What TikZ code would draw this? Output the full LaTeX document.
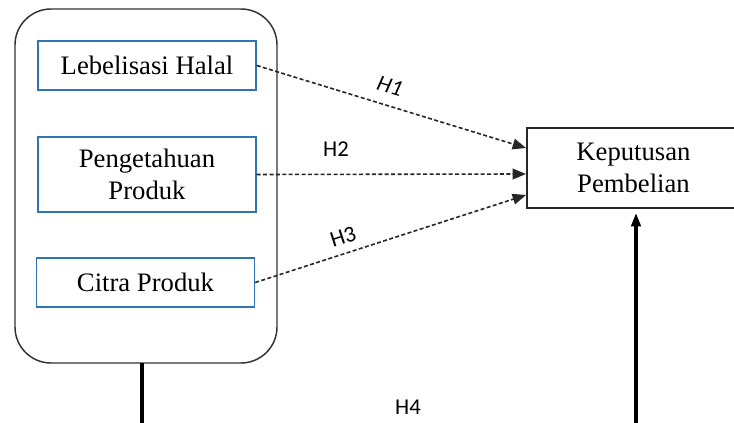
\documentclass[tikz,border=0pt]{standalone}
\usepackage{fontspec}
\setmainfont{Liberation Serif}
\newfontfamily\lblfont{Carlito}
\usetikzlibrary{arrows.meta}
\definecolor{boxblue}{RGB}{46,117,182}
\tikzset{
  varbox/.style={draw=boxblue, line width=1.1pt, minimum width=163.5pt, align=center, font=\fontsize{20}{24}\selectfont, inner sep=0pt},
  outerbox/.style={draw=black!80, line width=1.1pt, rounded corners=27pt},
  depbox/.style={draw=black!85, line width=1.1pt, align=center, font=\fontsize{20}{24}\selectfont, inner sep=0pt},
  dasharrow/.style={draw=black!85, line width=1.2pt, dash pattern=on 3pt off 1.8pt, -{Triangle[length=10pt,width=8pt]}},
  thickline/.style={draw=black, line width=2.4pt},
  hlabel/.style={font=\lblfont\fontsize{17}{18}\selectfont, inner sep=0pt}
}
\begin{document}
\begin{tikzpicture}[x=0.75pt,y=-0.75pt]
\clip (0,0) rectangle (734,423);
\fill[white] (0,0) rectangle (734,423);
% outer rounded container
\draw[outerbox] (15,9) rectangle (277,363);
\coordinate (outerbot) at (142,363);
% variable boxes
\node[varbox, minimum height=36.75pt] (lh) at (147,65.5) {Lebelisasi Halal};
\node[varbox, minimum height=56.25pt] (pp) at (147,174.5) {Pengetahuan\\Produk};
\node[varbox, minimum height=36.75pt] (cp) at (145.5,282.5) {Citra Produk};
% dependent box
\node[depbox, minimum width=159.75pt, minimum height=60pt] (kp) at (633.5,168) {Keputusan\\Pembelian};
% dashed arrows
\coordinate (t1) at (526,148);
\coordinate (t2) at (526,174);
\coordinate (t3) at (526,195);
\draw[dasharrow] (lh.east) -- (t1);
\draw[dasharrow] (pp.east) -- (t2);
\draw[dasharrow] (cp.east) -- (t3);
% labels
\node[hlabel, rotate=-16.7] (h1) at (390,86) {\itshape H1};
\node[hlabel] (h2) at (336,149) {H2};
\node[hlabel, rotate=18] (h3) at (343,237) {H3};
\node[hlabel] (h4) at (408,407) {H4};
% thick lines
\coordinate (b1) at (142,425);
\coordinate (b2) at (636,425);
\coordinate (tip) at (636,213);
\draw[thickline] (outerbot) -- (b1);
\draw[thickline, -{Triangle[length=10pt,width=7pt]}] (b2) -- (tip);
\end{tikzpicture}
\end{document}
